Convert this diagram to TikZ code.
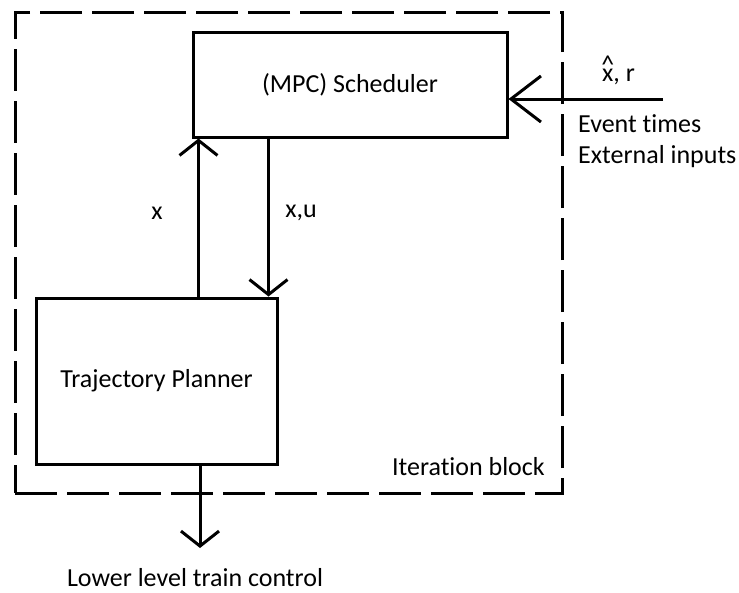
\documentclass[tikz,border=0pt]{standalone}
\usepackage{fontspec}
\setmainfont[Ligatures=NoCommon]{Carlito}
\usetikzlibrary{arrows.meta, positioning}

\tikzset{
  block/.style={draw, line width=3pt, inner sep=0pt},
  frame/.style={draw, line width=3pt, dash pattern=on 42pt off 10pt, inner sep=0pt},
  flow/.style={line width=3pt, -{Straight Barb[length=15pt, width=38pt, line width=3pt]}},
  bigflow/.style={line width=3pt, -{Straight Barb[length=30pt, width=46pt, line width=3pt]}},
  lbl/.style={font=\fontsize{26}{31}\selectfont, inner sep=0pt}
}
\newcommand{\xhat}{\ooalign{\hidewidth\raisebox{0.3em}{\textasciicircum}\hidewidth\cr x\cr}}

\begin{document}
\begin{tikzpicture}[x=1pt, y=-1pt]
        \useasboundingbox (0,0) rectangle (739,592);

        % Blocks
        \node[frame, minimum width=547pt, minimum height=481pt] (iter) at (288.5,252.5) {};
        \node[block, lbl, minimum width=314pt, minimum height=105pt] (sched) at (350,84.5) {(MPC) Scheduler};
        \node[block, lbl, minimum width=241pt, minimum height=166pt] (plan) at (156.5,381) {Trajectory Planner};

        % Connectors
        \draw[flow] ([xshift=164pt]plan.north west) -- ([xshift=164pt]plan.north west |- sched.south);
        \draw[flow] ([xshift=-10pt]plan.north east |- sched.south) -- ([xshift=-10pt]plan.north east);
        \coordinate (in) at (663,99);
        \draw[bigflow] (in) -- (sched.east |- in);
        \coordinate (out) at (200,548);
        \draw[flow] (plan.south -| out) -- (out);

        % Labels
        \node[lbl] (xlbl) at (157,213) {x};
        \node[lbl] (xulbl) at (301,213) {x,u};
        \node[lbl, anchor=base west] (xrlbl) at (602,81) {\xhat, r};
        \node[lbl, anchor=base west] (events) at (578,132) {Event times};
        \node[lbl, anchor=base west] (extin) at (578,163) {External inputs};
        \node[lbl, anchor=base east] (iterlbl) at (545,475) {Iteration block};
        \node[lbl, anchor=base] (lowlbl) at (195,586) {Lower level train control};
      \end{tikzpicture}
\end{document}
